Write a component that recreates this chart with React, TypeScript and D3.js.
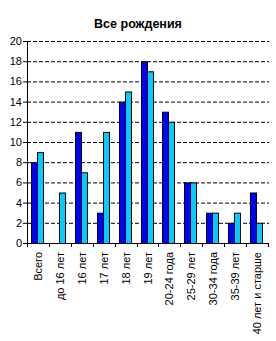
import React from 'react';
import * as d3 from 'd3';

const categories = ['Всего', 'до 16 лет', '16 лет', '17 лет', '18 лет', '19 лет', '20-24 года', '25-29 лет', '30-34 года', '35-39 лет', '40 лет и старше'];
const series1 = [8, 0, 11, 3, 14, 18, 13, 6, 3, 2, 5];
const series2 = [9, 5, 7, 11, 15, 17, 12, 6, 3, 3, 2];
const yTicks = [0, 2, 4, 6, 8, 10, 12, 14, 16, 18, 20];

const W = 276, H = 341;
const left = 27, right = 268, top = 41, bottom = 243;

export default function App() {
  const x = d3.scaleBand().domain(categories).range([left, right]).paddingInner(0).paddingOuter(0);
  const y = d3.scaleLinear().domain([0, 20]).range([bottom, top]);
  const barW = 6;
  const font = '"Liberation Sans", Arial, sans-serif';

  return (
    <svg width={W} height={H} style={{ position: 'absolute', left: 0, top: 0, background: '#fff' }}>
      <text x={138} y={28} textAnchor="middle" fontFamily={font} fontSize={12.5} fontWeight="bold">Все рождения</text>
      {/* grid */}
      {yTicks.filter(t => t > 0).map(t => (
        <line key={'g' + t} x1={left} x2={right + 1} y1={y(t) + 0.5} y2={y(t) + 0.5} stroke="#000" strokeDasharray="4,2" />
      ))}
      {/* y ticks and labels */}
      {yTicks.map(t => (
        <g key={'t' + t}>
          <line x1={left - 4} x2={left} y1={y(t) + 0.5} y2={y(t) + 0.5} stroke="#000" />
          <text x={left - 5} y={y(t) + 4} textAnchor="end" fontFamily={font} fontSize={11}>{t}</text>
        </g>
      ))}
      {/* bars */}
      {categories.map((c, i) => {
        const x0 = Math.round(x(c)! + 4);
        return (
          <g key={c}>
            {series1[i] > 0 && (
              <rect x={x0 + 0.5} y={y(series1[i]) + 0.5} width={barW} height={bottom - y(series1[i])} fill="#0000FF" stroke="#000" />
            )}
            {series2[i] > 0 && (
              <rect x={x0 + barW + 0.5} y={y(series2[i]) + 0.5} width={barW} height={bottom - y(series2[i])} fill="#00CCFF" stroke="#000" />
            )}
          </g>
        );
      })}
      {/* axes */}
      <line x1={left + 0.5} x2={left + 0.5} y1={top} y2={bottom + 1} stroke="#000" />
      <line x1={left} x2={right + 1} y1={bottom + 0.5} y2={bottom + 0.5} stroke="#000" />
      {categories.map((c, i) => (
        <line key={'xt' + i} x1={Math.round(x(c)!) + 0.5} x2={Math.round(x(c)!) + 0.5} y1={bottom} y2={bottom + 4} stroke="#000" />
      ))}
      <line x1={right + 0.5} x2={right + 0.5} y1={bottom} y2={bottom + 4} stroke="#000" />
      {/* x labels */}
      {categories.map(c => {
        const cx = x(c)! + x.bandwidth() / 2 + 4;
        return (
          <text key={'l' + c} transform={`translate(${cx},${bottom + 9}) rotate(-90)`} textAnchor="end" fontFamily={font} fontSize={11}>{c}</text>
        );
      })}
    </svg>
  );
}
